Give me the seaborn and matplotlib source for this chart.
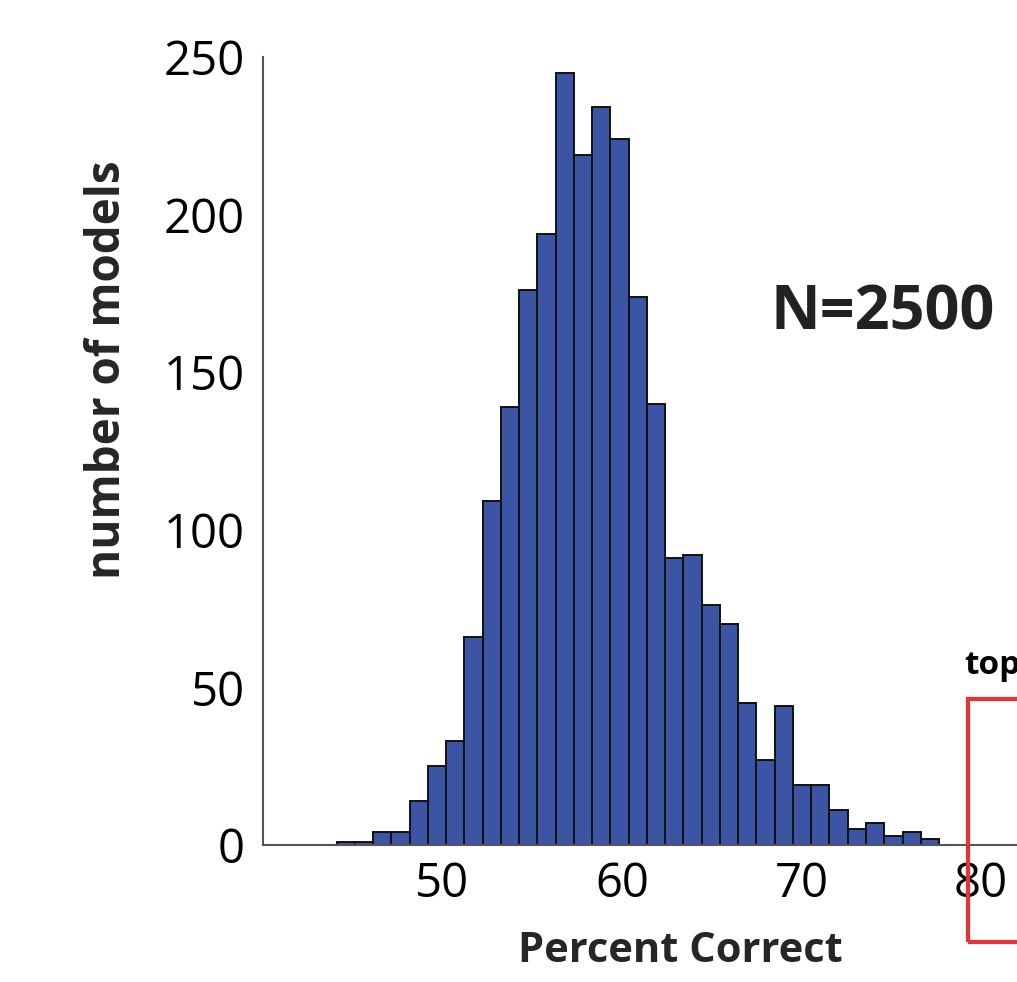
import numpy as np
import pandas as pd
import matplotlib
matplotlib.use("Agg")
import matplotlib.pyplot as plt
import seaborn as sns
from matplotlib.patches import Rectangle

# ---- data ----
counts = [1, 1, 4, 4, 14, 25, 33, 66, 109, 139, 176, 194, 245, 219, 234, 224,
          174, 140, 91, 92, 76, 70, 45, 27, 44, 19, 19, 11, 5, 7, 3, 4, 2]
bin_start = 44.1
bin_width = 1.017
xticks = [50, 60, 70, 80]
yticks = [0, 50, 100, 150, 200, 250]
xlabel = "Percent Correct"
ylabel = "number of models"
n_label = "N=2500"
top_label = "top"

nb = len(counts)
centers = bin_start + bin_width * (np.arange(nb) + 0.5)
df = pd.DataFrame({"pct": centers, "count": counts})

sns.set_theme(style="white")
plt.rcParams['font.family'] = ['Open Sans', 'DejaVu Sans']

W, H = 1017, 982
fig = plt.figure(figsize=(W / 100, H / 100), dpi=100)
ax_left, ax_bottom_px, ax_top_px = 263, 845, 57
xmin, xmax = 40, 86
px_per_unit = 17.95
ax_w = (xmax - xmin) * px_per_unit
ax_h = ax_bottom_px - ax_top_px
ax = fig.add_axes([ax_left / W, (H - ax_bottom_px) / H, ax_w / W, ax_h / H])

sns.histplot(data=df, x="pct", weights="count", binwidth=bin_width,
             binrange=(bin_start, bin_start + nb * bin_width), ax=ax,
             color="#3b54a3", alpha=1, edgecolor="#111111", linewidth=1.4)

ax.set_xlim(xmin, xmax)
ax.set_ylim(0, 250)
ax.set_xticks(xticks)
ax.set_yticks(yticks)
ax.tick_params(axis='both', direction='in', labelsize=34, colors='#555555',
               labelcolor='black', width=1.2)
ax.tick_params(axis='y', length=10, pad=13)
ax.tick_params(axis='x', length=8, pad=11)
for s in ['top', 'right']:
    ax.spines[s].set_visible(False)
for s in ['left', 'bottom']:
    ax.spines[s].set_color('#555555')
    ax.spines[s].set_linewidth(1.5)

ax.set_xlabel(xlabel, fontsize=30, fontweight='bold')
ax.set_ylabel(ylabel, fontsize=33, fontweight='bold')
ax.xaxis.set_label_coords((680 - ax_left) / ax_w, -(931 - ax_bottom_px) / ax_h)
ax.yaxis.set_label_coords(-(ax_left - 131) / ax_w, (ax_bottom_px - 370) / ax_h)

ax.text(883 / W, (H - 314) / H, n_label, transform=fig.transFigure, fontsize=44,
        fontweight='bold', color='#222222', ha='center', va='center')
ax.text(964 / W, (H - 665) / H, top_label, transform=fig.transFigure,
        fontsize=24, fontweight='bold', color='black', ha='left', va='center')

rect = Rectangle((968 / W, (H - 942) / H), 200 / W, (942 - 699) / H,
                 transform=fig.transFigure, fill=False, edgecolor='#e8323a',
                 linewidth=3)
fig.patches.append(rect)

fig.savefig("out.png", dpi=100)
